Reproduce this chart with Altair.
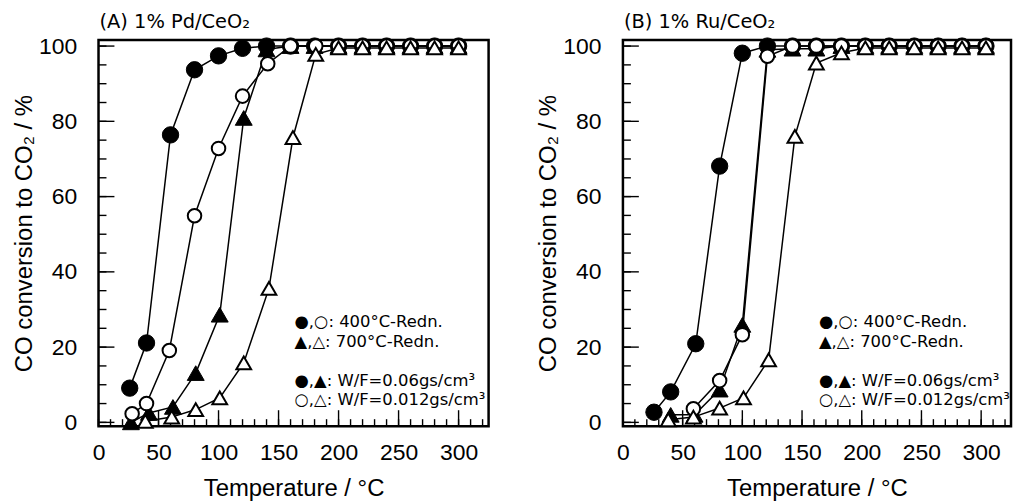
import altair as alt
import pandas as pd

# ---------------- data ----------------
# Temperature / degC  and  CO conversion to CO2 / %
# Panel (A) 1% Pd/CeO2
a_fc_t = [26, 40, 60, 80, 100, 120, 140, 160, 180, 200, 220, 240, 260, 280, 300]
a_fc_c = [9.1, 21.1, 76.4, 93.7, 97.4, 99.4, 100, 100, 100, 100, 100, 100, 100, 100, 100]
a_ft_t = [27, 42, 62, 81, 101, 121, 140, 160, 180, 200, 220, 240, 260, 280, 300]
a_ft_c = [0, 2.5, 4.1, 13.1, 28.6, 80.9, 99.1, 100, 100, 100, 100, 100, 100, 100, 100]
a_oc_t = [28, 40, 59, 80, 100, 120, 141, 160, 181, 200, 220, 240, 260, 280, 300]
a_oc_c = [2.3, 5.0, 19.1, 54.9, 72.8, 86.7, 95.3, 100, 100, 100, 100, 100, 100, 100, 100]
a_ot_t = [39, 61, 81, 101, 121, 142, 162, 181, 200, 220, 240, 260, 280, 300]
a_ot_c = [0.3, 1.4, 3.4, 6.5, 15.8, 35.6, 75.7, 97.8, 99.5, 99.5, 99.5, 99.5, 99.5, 99.5]

# Panel (B) 1% Ru/CeO2
b_fc_t = [26, 40, 61, 81, 100, 121, 142, 162, 183, 203, 223, 244, 264, 284, 304]
b_fc_c = [2.7, 8.1, 20.9, 68.1, 98.1, 100, 100, 100, 100, 100, 100, 100, 100, 100, 100]
b_ft_t = [40, 60, 81, 100, 121, 142, 162, 183, 203, 223, 244, 264, 284, 304]
b_ft_c = [2.0, 2.0, 8.7, 25.9, 99.0, 99.3, 99.3, 100, 100, 100, 100, 100, 100, 100]
b_oc_t = [59, 81, 100, 121, 142, 162, 183, 203, 223, 244, 264, 284, 304]
b_oc_c = [3.6, 11.1, 23.3, 97.3, 100, 100, 100, 100, 100, 100, 100, 100, 100]
b_ot_t = [38, 59, 81, 101, 122, 144, 162, 183, 203, 223, 244, 264, 284, 304]
b_ot_c = [0.7, 1.4, 3.8, 6.5, 16.6, 76.0, 95.5, 98.2, 99.5, 99.5, 99.5, 99.5, 99.5, 99.5]

# axis ticks
x_major = [0, 50, 100, 150, 200, 250, 300]
x_minor = [0, 10, 20, 30, 40, 50, 60, 70, 80, 90, 100, 110, 120, 130, 140, 150, 160,
           170, 180, 190, 200, 210, 220, 230, 240, 250, 260, 270, 280, 290, 300, 310, 320]
y_major = [0, 20, 40, 60, 80, 100]
y_minor = [0, 5, 10, 15, 20, 25, 30, 35, 40, 45, 50, 55, 60, 65, 70, 75, 80, 85, 90, 95, 100]

titles = ["(A) 1% Pd/CeO\u2082", "(B) 1% Ru/CeO\u2082"]
legend_rows = ["\u25cf,\u25cb: 400\u00b0C-Redn.",
               "\u25b2,\u25b3: 700\u00b0C-Redn.",
               "\u25cf,\u25b2: W/F=0.06gs/cm\u00b3",
               "\u25cb,\u25b3: W/F=0.012gs/cm\u00b3"]

# ---------------- layout / style ----------------
W_A, W_B, H = 392, 390, 388
XDOM = [0, 325]
YDOM = [-1, 101.6]
FONT_AX = "Liberation Sans"
FONT_TXT = "DejaVu Sans"

xaxis = alt.Axis(values=x_major, ticks=False, tickSize=0, domain=False, grid=False,
                 labelFont=FONT_AX, labelFontSize=23, labelPadding=16, labelColor="black",
                 labelFlush=False, labelOverlap=False,
                 title="Temperature / \u00b0C", titleFont=FONT_AX, titleFontSize=24,
                 titleFontWeight="normal", titlePadding=12, titleColor="black")
yaxis = alt.Axis(values=y_major, ticks=False, tickSize=0, domain=False, grid=False,
                 labelFont=FONT_AX, labelFontSize=23, labelPadding=22, labelColor="black",
                 labelFlush=False, labelOverlap=False,
                 title="CO conversion to CO\u2082 / %", titleFont=FONT_AX, titleFontSize=24,
                 titleFontWeight="normal", titlePadding=2, titleColor="black")
xscale = alt.Scale(domain=XDOM, nice=False, zero=False)
yscale = alt.Scale(domain=YDOM, nice=False, zero=False)


def X(f):
    return alt.X(f"{f}:Q", scale=xscale, axis=xaxis)


def Y(f):
    return alt.Y(f"{f}:Q", scale=yscale, axis=yaxis)


def series(t, c, shape, filled, size, sw):
    df = pd.DataFrame({"T": t, "C": c})
    base = alt.Chart(df)
    line = base.mark_line(color="black", strokeWidth=1.5).encode(x=X("T"), y=Y("C"))
    pts = base.mark_point(shape=shape, filled=True, fill=("black" if filled else "white"),
                          stroke="black", strokeWidth=sw, size=size, opacity=1).encode(
        x=X("T"), y=Y("C"))
    return [line, pts]


def tick_layers():
    out = []
    for vals, ln in ((y_minor, 8), (y_major, 16)):
        out.append(alt.Chart(pd.DataFrame({"v": vals})).mark_rule(color="black", strokeWidth=1.4)
                   .encode(y=Y("v"), x=alt.value(0), x2=alt.value(ln)))
    for vals, ln in ((x_minor, 7), (x_major, 16)):
        out.append(alt.Chart(pd.DataFrame({"v": vals})).mark_rule(color="black", strokeWidth=1.4)
                   .encode(x=X("v"), y=alt.value(H), y2=alt.value(H - ln)))
    return out


def text_layer(s, px, py, size):
    return alt.Chart(pd.DataFrame({"s": [s]})).mark_text(
        align="left", baseline="middle", font=FONT_TXT, fontSize=size, color="black"
    ).encode(x=alt.value(px), y=alt.value(py), text="s:N")


def panel(title, fc, ft, oc, ot, width):
    layers = tick_layers()
    layers += series(fc[0], fc[1], "circle", True, 270, 1)
    layers += series(ft[0], ft[1], "triangle-up", True, 289, 1)
    layers += series(oc[0], oc[1], "circle", False, 185, 2)
    layers += series(ot[0], ot[1], "triangle-up", False, 220, 2)
    layers.append(text_layer(title, 1, -18.5, 19.5))
    for s, py in zip(legend_rows, [283.5, 303.5, 343, 362]):
        layers.append(text_layer(s, 197, py, 16.5))
    return alt.layer(*layers).properties(width=width, height=H)


pa = panel(titles[0], (a_fc_t, a_fc_c), (a_ft_t, a_ft_c), (a_oc_t, a_oc_c), (a_ot_t, a_ot_c), W_A)
pb = panel(titles[1], (b_fc_t, b_fc_c), (b_ft_t, b_ft_c), (b_oc_t, b_oc_c), (b_ot_t, b_ot_c), W_B)

chart = alt.hconcat(pa, pb, spacing=45).properties(
    padding={"left": 11, "top": 9, "right": 0, "bottom": 0},
    background="white",
).configure_view(stroke="black", strokeWidth=2.5)

chart.save("out.html", embed_options={"renderer": "svg", "actions": False})
